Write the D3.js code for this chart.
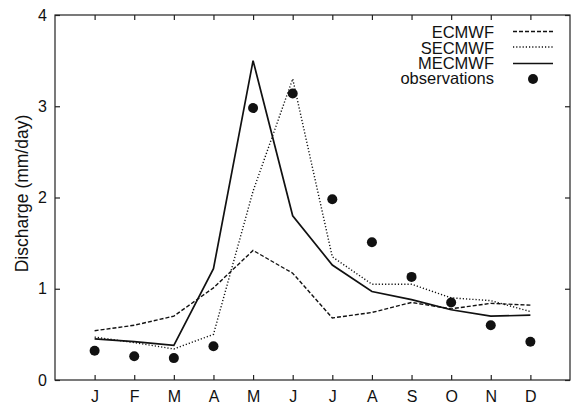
<!DOCTYPE html>
<html lang="en">
<head>
  <meta charset="UTF-8" />
  <title>Discharge</title>
  <script src="https://d3js.org/d3.v7.min.js"></script>
  <style>
    body { margin: 0; background: white; }
    svg { display: block; font-family: "Liberation Sans", Arial, sans-serif; }
    .tick text { font-size: 16px; fill: #111; }
  </style>
</head>
<body>
  <svg id="chart"></svg>
  <script>
    const months = ["J", "F", "M", "A", "M", "J", "J", "A", "S", "O", "N", "D"];
    const ecmwf  = [0.54, 0.60, 0.70, 1.01, 1.42, 1.17, 0.68, 0.74, 0.85, 0.78, 0.84, 0.82];
    const secmwf = [0.47, 0.41, 0.34, 0.50, 2.07, 3.30, 1.35, 1.05, 1.05, 0.90, 0.87, 0.75];
    const mecmwf = [0.45, 0.42, 0.38, 1.22, 3.50, 1.80, 1.26, 0.97, 0.88, 0.77, 0.70, 0.71];
    const observations = [0.32, 0.26, 0.24, 0.37, 2.98, 3.14, 1.98, 1.51, 1.13, 0.85, 0.60, 0.42];
    const yTicks = [0, 1, 2, 3, 4];

    const width = 575, height = 406;
    const margin = { top: 15, right: 5, bottom: 26, left: 55 };
    const w = width - margin.left - margin.right;
    const h = height - margin.top - margin.bottom;

    const svg = d3.select("#chart").attr("width", width).attr("height", height);
    const g = svg.append("g").attr("transform", `translate(${margin.left},${margin.top})`);

    const x = d3.scaleLinear().domain([0, 13]).range([0, w]);
    const y = d3.scaleLinear().domain([0, 4]).range([h, 0]);
    const monthIdx = months.map((m, i) => i + 1);

    // frame
    g.append("rect").attr("width", w).attr("height", h)
      .attr("fill", "none").attr("stroke", "#222").attr("stroke-width", 1.2);

    // axes, ticks pointing inward
    const xAxis = g.append("g").attr("transform", `translate(0,${h})`)
      .call(d3.axisBottom(x).tickValues(monthIdx).tickSize(-5).tickPadding(11)
        .tickFormat(d => months[d - 1]));
    const xTop = g.append("g")
      .call(d3.axisTop(x).tickValues(monthIdx).tickSize(-5).tickFormat(""));
    const yAxis = g.append("g")
      .call(d3.axisLeft(y).tickValues(yTicks).tickSize(-5).tickPadding(8)
        .tickFormat(d3.format("d")));
    const yRight = g.append("g").attr("transform", `translate(${w},0)`)
      .call(d3.axisRight(y).tickValues(yTicks).tickSize(-5).tickFormat(""));
    [xAxis, xTop, yAxis, yRight].forEach(a => {
      a.select(".domain").remove();
      a.selectAll(".tick line").attr("stroke", "#222").attr("stroke-width", 1.2);
    });

    svg.append("text")
      .attr("transform", `translate(28,${margin.top + h / 2 - 4}) rotate(-90)`)
      .attr("text-anchor", "middle")
      .attr("font-size", 17.5).attr("fill", "#111")
      .text("Discharge (mm/day)");

    const line = d3.line().x((d, i) => x(i + 1)).y(d => y(d));

    const series = [
      { name: "ECMWF", values: ecmwf, dash: "4,2", sw: 1.4 },
      { name: "SECMWF", values: secmwf, dash: "1.2,2", sw: 1.4 },
      { name: "MECMWF", values: mecmwf, dash: null, sw: 1.7 }
    ];

    series.forEach(s => {
      g.append("path").datum(s.values)
        .attr("fill", "none").attr("stroke", "#111")
        .attr("stroke-width", s.sw)
        .attr("stroke-dasharray", s.dash)
        .attr("d", line);
    });

    g.selectAll(".obs").data(observations).enter().append("circle")
      .attr("class", "obs")
      .attr("cx", (d, i) => x(i + 1)).attr("cy", d => y(d))
      .attr("r", 5).attr("fill", "#111");

    // legend
    const legend = svg.append("g");
    const legY = [32.5, 48, 63, 78.5];
    const lineY = [31.5, 47, 63.5, 79];
    series.forEach((s, i) => {
      legend.append("text").attr("x", 494).attr("y", legY[i]).attr("dy", "0.35em")
        .attr("text-anchor", "end").attr("font-size", 16.5).attr("fill", "#111")
        .text(s.name);
      legend.append("line").attr("x1", 513).attr("x2", 553)
        .attr("y1", lineY[i]).attr("y2", lineY[i])
        .attr("stroke", "#111").attr("stroke-width", s.sw)
        .attr("stroke-dasharray", s.dash);
    });
    legend.append("text").attr("x", 494).attr("y", legY[3]).attr("dy", "0.35em")
      .attr("text-anchor", "end").attr("font-size", 16.5).attr("fill", "#111")
      .text("observations");
    legend.append("circle").attr("cx", 533).attr("cy", lineY[3])
      .attr("r", 5).attr("fill", "#111");
  </script>
</body>
</html>
